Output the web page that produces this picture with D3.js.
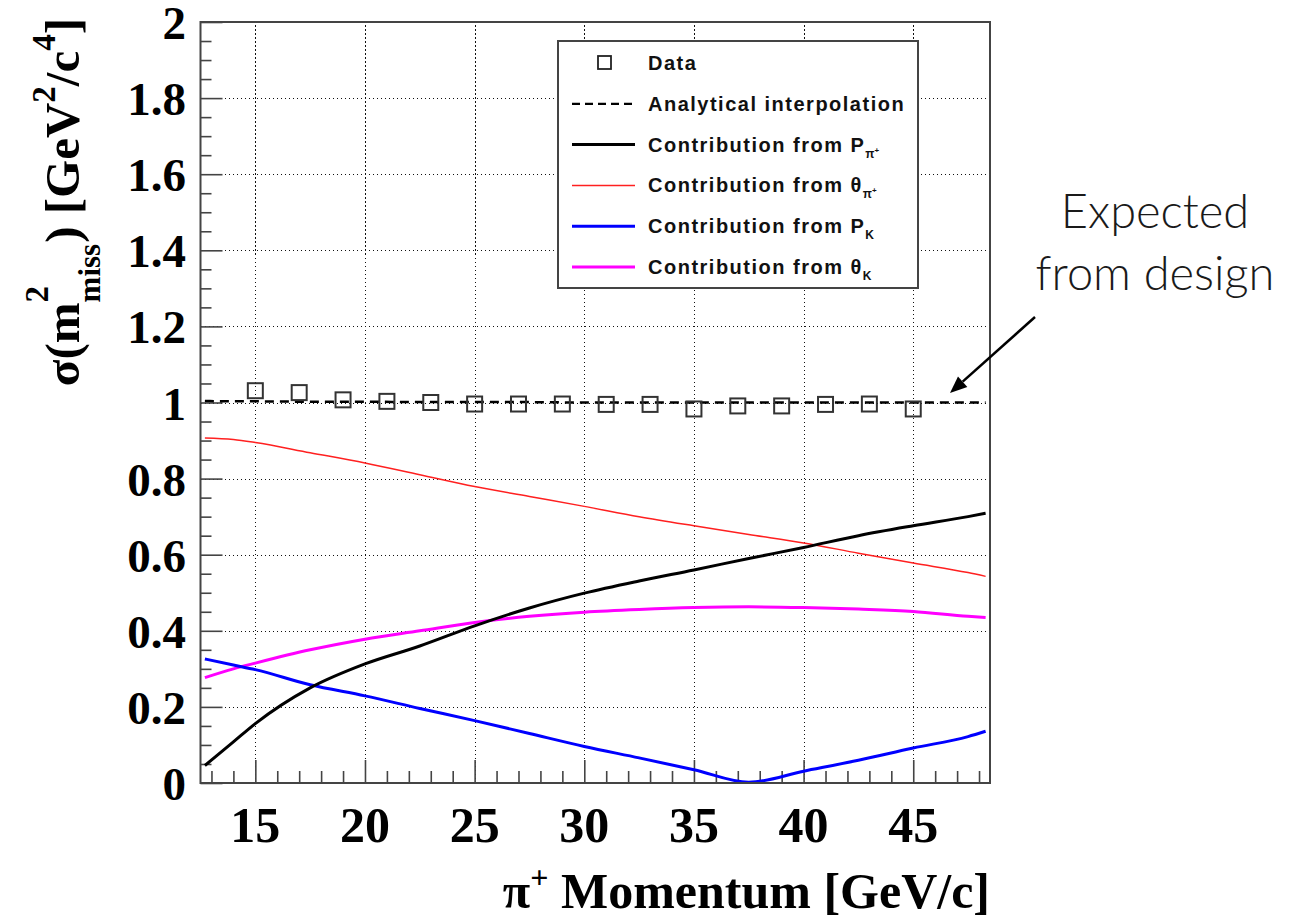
<!DOCTYPE html>
<html>
<head>
<meta charset="utf-8">
<script src="https://cdn.jsdelivr.net/npm/d3@7"></script>
<style>
  html, body { margin: 0; padding: 0; background: #fff; }
  svg { display: block; }
</style>
</head>
<body>
<svg id="chart" width="1304" height="923"></svg>
<script>
// ---- data ------------------------------------------------------------
// measured points (pi+ momentum, GeV/c)
const dataMomentum = [15, 17, 19, 21, 23, 25, 27, 29, 31, 33, 35, 37, 39, 41, 43, 45];
const dataSigma    = [1.031, 1.026, 1.007, 1.003, 1.000, 0.996, 0.996, 0.996,
                      0.995, 0.995, 0.983, 0.991, 0.991, 0.995, 0.996, 0.983];

// momentum grid for the resolution curves
const curveMomentum = [12.7, 14, 15, 17.5, 20, 22.5, 25, 27.5, 30, 32.5, 35, 37.5, 40, 42.5, 45, 47.5, 48.3];
const analytical  = [1.004, 1.003, 1.003, 1.002, 1.002, 1.001, 1.001, 1.001, 1.000,
                     1.000, 1.000, 1.000, 1.000, 1.000, 1.000, 1.000, 1.000];
const contribPpi  = [0.046, 0.108, 0.156, 0.250, 0.313, 0.360, 0.413, 0.460, 0.499,
                     0.531, 0.560, 0.590, 0.619, 0.650, 0.676, 0.700, 0.709];
const contribThPi = [0.907, 0.903, 0.895, 0.868, 0.841, 0.810, 0.779, 0.753, 0.727,
                     0.700, 0.676, 0.653, 0.631, 0.604, 0.578, 0.553, 0.543];
const contribPK   = [0.326, 0.310, 0.298, 0.258, 0.229, 0.196, 0.164, 0.130, 0.096,
                     0.066, 0.035, 0.002, 0.031, 0.060, 0.092, 0.122, 0.136];
const contribThK  = [0.277, 0.300, 0.315, 0.350, 0.378, 0.400, 0.422, 0.438, 0.449,
                     0.456, 0.461, 0.463, 0.461, 0.457, 0.451, 0.438, 0.435];

const xTicks = [15, 20, 25, 30, 35, 40, 45];
const yTicks = [0, 0.2, 0.4, 0.6, 0.8, 1, 1.2, 1.4, 1.6, 1.8, 2];

const legendLabels = [
  { kind: "marker", main: "Data" },
  { kind: "dashed", main: "Analytical interpolation" },
  { kind: "line", color: "#000000", width: 3,   main: "Contribution from P",  sub: "\u03c0", subsup: "+" },
  { kind: "line", color: "#ff2020", width: 1.5, main: "Contribution from \u03b8", sub: "\u03c0", subsup: "+" },
  { kind: "line", color: "#0000ff", width: 3,   main: "Contribution from P",  sub: "K" },
  { kind: "line", color: "#ff00ff", width: 3,   main: "Contribution from \u03b8", sub: "K" }
];

// ---- layout ------------------------------------------------------------
const svg = d3.select("#chart");
const X0 = 200.5, X1 = 990, Y0 = 783, Y1 = 22;
const x = d3.scaleLinear().domain([12.5, 48.5]).range([X0, X1]);
const y = d3.scaleLinear().domain([0, 2]).range([Y0, Y1]);

const serif = "'Liberation Serif', 'Times New Roman', serif";
const sans = "'Liberation Sans', Arial, Helvetica, sans-serif";
const frameColor = "#444";

// ---- grid ----------------------------------------------------------------
const grid = svg.append("g").attr("class", "grid")
  .attr("stroke", "#111").attr("stroke-width", 1.2).attr("stroke-dasharray", "1.5,2.5")
  .attr("shape-rendering", "crispEdges");
grid.selectAll("line.gx").data(xTicks).join("line").attr("class", "gx")
  .attr("x1", d => Math.round(x(d)) + 0.5).attr("x2", d => Math.round(x(d)) + 0.5).attr("y1", Y0).attr("y2", Y1);
grid.selectAll("line.gy").data(yTicks.filter(v => v > 0 && v < 2)).join("line").attr("class", "gy")
  .attr("x1", X0).attr("x2", X1).attr("y1", d => Math.round(y(d)) + 0.5).attr("y2", d => Math.round(y(d)) + 0.5);

// ---- axes (ticks inside the frame) ---------------------------------------------
const yAxis = d3.axisRight(y).tickValues(d3.range(0, 2.0001, 0.05)).tickSize(11).tickFormat("");
const gy = svg.append("g").attr("transform", `translate(${X0},0)`).call(yAxis);
gy.select(".domain").remove();
gy.selectAll(".tick line").attr("stroke", frameColor).attr("stroke-width", 1.6)
  .attr("x2", (d) => Math.abs(d * 5 - Math.round(d * 5)) < 1e-6 ? 22 : 11);

const xAxis = d3.axisTop(x).tickValues(d3.range(13, 48.01, 1)).tickSize(12).tickFormat("");
const gx = svg.append("g").attr("transform", `translate(0,${Y0})`).call(xAxis);
gx.select(".domain").remove();
gx.selectAll(".tick line").attr("stroke", frameColor).attr("stroke-width", 1.6)
  .attr("y2", d => d % 5 === 0 ? -23 : -12);

// tick labels
svg.append("g").selectAll("text").data(yTicks).join("text")
  .attr("x", 186).attr("y", d => y(d) + 17)
  .attr("text-anchor", "end")
  .attr("font-family", serif).attr("font-weight", "bold").attr("font-size", 47)
  .text(d => d3.format("~g")(d));

svg.append("g").selectAll("text").data(xTicks).join("text")
  .attr("x", d => x(d)).attr("y", 842)
  .attr("text-anchor", "middle")
  .attr("font-family", serif).attr("font-weight", "bold").attr("font-size", 50)
  .text(d => d);

// ---- curves ------------------------------------------------------------------
const lineGen = vals => d3.line()
  .x((d, i) => x(curveMomentum[i]))
  .y(d => y(d))
  .curve(d3.curveMonotoneX)(vals);

const curves = svg.append("g").attr("fill", "none").attr("stroke-linejoin", "round");
curves.append("path").attr("d", lineGen(contribThPi)).attr("stroke", "#ff2020").attr("stroke-width", 1.5);
curves.append("path").attr("d", lineGen(contribThK)).attr("stroke", "#ff00ff").attr("stroke-width", 3);
curves.append("path").attr("d", lineGen(contribPK)).attr("stroke", "#0000ff").attr("stroke-width", 3);
curves.append("path").attr("d", lineGen(contribPpi)).attr("stroke", "#000").attr("stroke-width", 3);
curves.append("path").attr("d", lineGen(analytical)).attr("stroke", "#000")
  .attr("stroke-width", 2.5).attr("stroke-dasharray", "9,6");

// data markers
const sq = 15;
svg.append("g").selectAll("rect").data(dataMomentum).join("rect")
  .attr("x", d => x(d) - sq / 2)
  .attr("y", (d, i) => y(dataSigma[i]) - sq / 2)
  .attr("width", sq).attr("height", sq)
  .attr("fill", "none").attr("stroke", "#333").attr("stroke-width", 2);

// ---- frame -----------------------------------------------------------------
svg.append("rect").attr("x", X0).attr("y", Y1).attr("width", X1 - X0).attr("height", Y0 - Y1)
  .attr("fill", "none").attr("stroke", frameColor).attr("stroke-width", 2);

// ---- legend ----------------------------------------------------------------
const LX = 558, LY = 41, LW = 360, LH = 247;
const leg = svg.append("g");
leg.append("rect").attr("x", LX).attr("y", LY).attr("width", LW).attr("height", LH)
  .attr("fill", "#fff").attr("stroke", frameColor).attr("stroke-width", 2);

const rowY = i => 63 + i * 40.8;
legendLabels.forEach((e, i) => {
  const cy = rowY(i);
  if (e.kind === "marker") {
    leg.append("rect").attr("x", 598).attr("y", cy - 7).attr("width", 13).attr("height", 13)
      .attr("fill", "none").attr("stroke", "#222").attr("stroke-width", 1.8);
  } else if (e.kind === "dashed") {
    leg.append("line").attr("x1", 572).attr("x2", 636).attr("y1", cy).attr("y2", cy)
      .attr("stroke", "#000").attr("stroke-width", 2.2).attr("stroke-dasharray", "8,5");
  } else {
    leg.append("line").attr("x1", 572).attr("x2", 635).attr("y1", cy).attr("y2", cy)
      .attr("stroke", e.color).attr("stroke-width", e.width);
  }
  const t = leg.append("text").attr("x", 648).attr("y", cy + 7)
    .attr("font-family", sans).attr("font-weight", "bold").attr("font-size", 20)
    .attr("letter-spacing", 1.5).attr("fill", "#111");
  t.append("tspan").text(e.main);
  if (e.sub) {
    t.append("tspan").attr("dy", 6).attr("dx", 0).attr("font-size", 12).attr("letter-spacing", 0).text(e.sub);
    if (e.subsup) t.append("tspan").attr("dy", -5).attr("font-size", 8).attr("letter-spacing", 0).text(e.subsup);
  }
});

// ---- axis titles ------------------------------------------------------------
const xt = svg.append("text").attr("x", 990).attr("y", 908).attr("text-anchor", "end")
  .attr("font-family", serif).attr("font-weight", "bold").attr("font-size", 50);
xt.append("tspan").text("\u03c0");
xt.append("tspan").attr("dy", -20).attr("font-size", 32).text("+");
xt.append("tspan").attr("dy", 20).text(" Momentum [GeV/c]");

// y title: built piece by piece in a rotated frame so the stacked
// superscript/subscript on m can share one horizontal position
const yt = svg.append("g");
let cursor = 0;
function piece(str, size, shift) {
  const t = yt.append("text").attr("x", cursor).attr("y", shift)
    .attr("font-family", serif).attr("font-weight", "bold").attr("font-size", size).text(str);
  return t.node().getComputedTextLength();
}
cursor += piece("\u03c3(m", 49, 0);
const wSup = piece("2", 33, -31);
const wSub = piece("miss", 31, 21);
cursor += Math.max(wSup, wSub) + 1;
cursor += piece(") [GeV", 49, 0);
cursor += piece("2", 33, -24);
cursor += piece("/c", 49, 0);
cursor += piece("4", 33, -24);
cursor += piece("]", 49, 0);
yt.attr("transform", `translate(79,${18 + cursor}) rotate(-90)`);

// ---- annotation ------------------------------------------------------------
const ann = svg.append("g").attr("font-family", "Lato, 'Open Sans', sans-serif")
  .attr("font-weight", 300).attr("font-size", 47).attr("fill", "#1a1a1a").attr("text-anchor", "middle");
ann.append("text").attr("x", 1155).attr("y", 228).text("Expected");
ann.append("text").attr("x", 1155).attr("y", 290).text("from design");

// arrow pointing at the analytical curve's right end
const tipX = 950, tipY = 393, tailX = 1035, tailY = 317;
const ang = Math.atan2(tipY - tailY, tipX - tailX);
const headLen = 17, headHalf = 7;
const bx = tipX - headLen * Math.cos(ang), by = tipY - headLen * Math.sin(ang);
svg.append("line").attr("x1", tailX).attr("y1", tailY).attr("x2", bx).attr("y2", by)
  .attr("stroke", "#000").attr("stroke-width", 2.5);
svg.append("path")
  .attr("d", `M${tipX},${tipY} L${bx + headHalf * Math.sin(ang)},${by - headHalf * Math.cos(ang)} L${bx - headHalf * Math.sin(ang)},${by + headHalf * Math.cos(ang)} Z`)
  .attr("fill", "#000");
</script>
</body>
</html>
